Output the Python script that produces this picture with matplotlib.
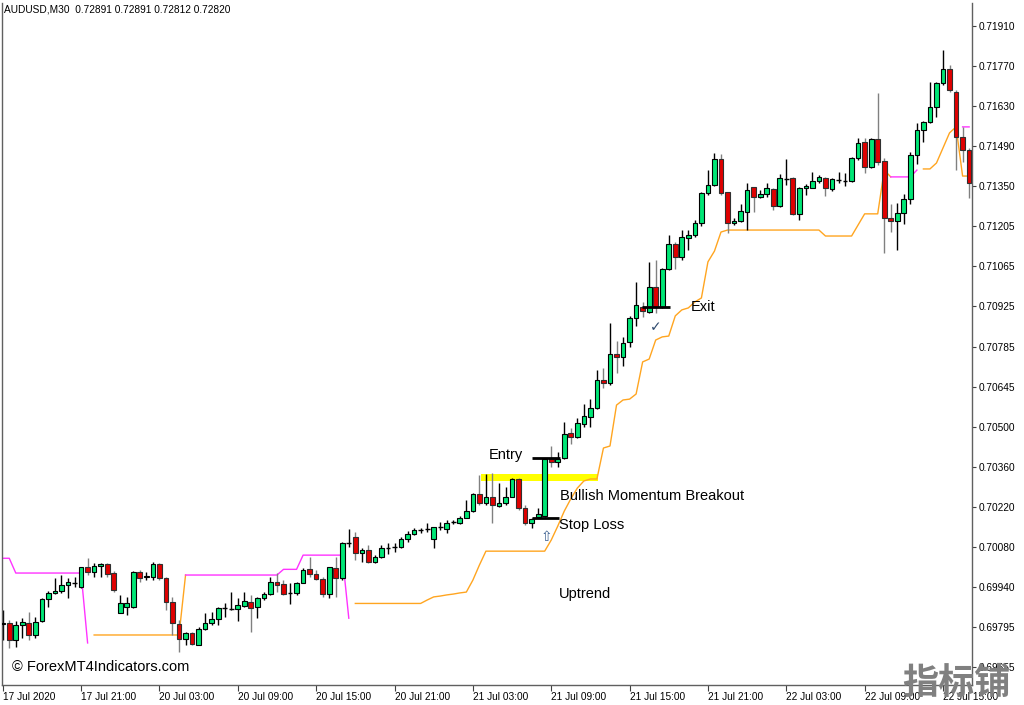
import numpy as np
import matplotlib
matplotlib.use("Agg")
import matplotlib.pyplot as plt

plt.rcParams['font.family'] = ['Liberation Sans', 'DejaVu Sans']

# AUDUSD M30 candles (oldest first)
opens = [0.69805, 0.69809, 0.69749, 0.69802, 0.69809, 0.69767, 0.69816, 0.69894, 0.69915, 0.69922,
         0.69943, 0.69950, 0.69936, 0.70006, 0.69989, 0.70010, 0.70017, 0.69985, 0.69844, 0.69865,
         0.69865, 0.69989, 0.69971, 0.69971, 0.70017, 0.69967, 0.69883, 0.69805, 0.69753, 0.69774,
         0.69732, 0.69788, 0.69809, 0.69823, 0.69862, 0.69858, 0.69858, 0.69869, 0.69883, 0.69865,
         0.69897, 0.69911, 0.69953, 0.69946, 0.69915, 0.69915, 0.69950, 0.69999, 0.69982, 0.69964,
         0.69911, 0.70003, 0.69967, 0.70091, 0.70112, 0.70055, 0.70066, 0.70024, 0.70041, 0.70073,
         0.70077, 0.70077, 0.70105, 0.70122, 0.70136, 0.70140, 0.70105, 0.70147, 0.70140, 0.70164,
         0.70161, 0.70178, 0.70203, 0.70263, 0.70231, 0.70252, 0.70221, 0.70231, 0.70252, 0.70315,
         0.70214, 0.70161, 0.70182, 0.70186, 0.70386, 0.70376, 0.70390, 0.70478, 0.70464, 0.70510,
         0.70534, 0.70566, 0.70664, 0.70654, 0.70756, 0.70745, 0.70798, 0.70883, 0.70921, 0.70904,
         0.70992, 0.70921, 0.71055, 0.71143, 0.71097, 0.71164, 0.71175, 0.71217, 0.71323, 0.71351,
         0.71442, 0.71326, 0.71217, 0.71224, 0.71256, 0.71343, 0.71308, 0.71319, 0.71337, 0.71277,
         0.71372, 0.71375, 0.71248, 0.71340, 0.71340, 0.71365, 0.71375, 0.71337, 0.71368, 0.71365,
         0.71365, 0.71446, 0.71502, 0.71414, 0.71512, 0.71435, 0.71234, 0.71224, 0.71252, 0.71301,
         0.71456, 0.71544, 0.71572, 0.71625, 0.71709, 0.71759, 0.71678, 0.71519, 0.71474]
highs = [0.69855, 0.69820, 0.69816, 0.69827, 0.69848, 0.69830, 0.69897, 0.69922, 0.69967, 0.69978,
         0.69967, 0.69971, 0.70008, 0.70038, 0.70020, 0.70020, 0.70020, 0.69992, 0.69908, 0.69901,
         0.69992, 0.69996, 0.69989, 0.70024, 0.70020, 0.69971, 0.69901, 0.69820, 0.69778, 0.69778,
         0.69795, 0.69844, 0.69848, 0.69865, 0.69879, 0.69918, 0.69897, 0.69918, 0.69908, 0.69901,
         0.69918, 0.69971, 0.69985, 0.69960, 0.69950, 0.69953, 0.70003, 0.70041, 0.69996, 0.69971,
         0.70006, 0.70041, 0.70094, 0.70140, 0.70129, 0.70073, 0.70084, 0.70048, 0.70084, 0.70091,
         0.70091, 0.70112, 0.70133, 0.70143, 0.70143, 0.70161, 0.70147, 0.70164, 0.70172, 0.70172,
         0.70185, 0.70242, 0.70266, 0.70330, 0.70333, 0.70337, 0.70302, 0.70288, 0.70319, 0.70319,
         0.70224, 0.70178, 0.70214, 0.70390, 0.70432, 0.70411, 0.70517, 0.70495, 0.70531, 0.70580,
         0.70597, 0.70700, 0.70707, 0.70865, 0.70802, 0.70816, 0.70890, 0.71009, 0.70939, 0.71080,
         0.71087, 0.71059, 0.71175, 0.71150, 0.71192, 0.71192, 0.71227, 0.71326, 0.71403, 0.71463,
         0.71460, 0.71326, 0.71234, 0.71284, 0.71358, 0.71343, 0.71333, 0.71358, 0.71340, 0.71389,
         0.71442, 0.71379, 0.71343, 0.71354, 0.71396, 0.71386, 0.71379, 0.71375, 0.71396, 0.71393,
         0.71449, 0.71516, 0.71516, 0.71516, 0.71674, 0.71446, 0.71284, 0.71287, 0.71319, 0.71467,
         0.71569, 0.71576, 0.71713, 0.71713, 0.71826, 0.71773, 0.71685, 0.71555, 0.71481]
lows = [0.69749, 0.69721, 0.69725, 0.69756, 0.69749, 0.69756, 0.69813, 0.69865, 0.69911, 0.69915,
        0.69897, 0.69936, 0.69932, 0.69978, 0.69971, 0.69971, 0.69971, 0.69918, 0.69844, 0.69837,
        0.69862, 0.69953, 0.69960, 0.69960, 0.69960, 0.69855, 0.69767, 0.69707, 0.69732, 0.69732,
        0.69732, 0.69784, 0.69802, 0.69802, 0.69830, 0.69855, 0.69816, 0.69865, 0.69777, 0.69827,
        0.69890, 0.69908, 0.69918, 0.69908, 0.69876, 0.69908, 0.69950, 0.69971, 0.69960, 0.69901,
        0.69897, 0.69901, 0.69960, 0.70077, 0.70031, 0.70024, 0.70020, 0.70020, 0.70038, 0.70052,
        0.70059, 0.70073, 0.70094, 0.70119, 0.70126, 0.70129, 0.70073, 0.70136, 0.70126, 0.70157,
        0.70157, 0.70178, 0.70199, 0.70224, 0.70224, 0.70161, 0.70217, 0.70224, 0.70252, 0.70207,
        0.70154, 0.70143, 0.70178, 0.70182, 0.70358, 0.70358, 0.70386, 0.70439, 0.70460, 0.70499,
        0.70499, 0.70562, 0.70636, 0.70647, 0.70689, 0.70714, 0.70781, 0.70855, 0.70886, 0.70900,
        0.70900, 0.70918, 0.71052, 0.71055, 0.71087, 0.71122, 0.71168, 0.71206, 0.71316, 0.71347,
        0.71316, 0.71182, 0.71210, 0.71220, 0.71192, 0.71255, 0.71305, 0.71308, 0.71263, 0.71273,
        0.71351, 0.71245, 0.71227, 0.71316, 0.71340, 0.71358, 0.71312, 0.71330, 0.71358, 0.71347,
        0.71361, 0.71438, 0.71393, 0.71410, 0.71421, 0.71111, 0.71185, 0.71122, 0.71213, 0.71284,
        0.71424, 0.71502, 0.71569, 0.71590, 0.71702, 0.71678, 0.71403, 0.71431, 0.71305]
closes = [0.69809, 0.69749, 0.69802, 0.69813, 0.69767, 0.69813, 0.69894, 0.69915, 0.69922, 0.69943,
          0.69953, 0.69950, 0.70006, 0.69989, 0.70010, 0.70017, 0.69982, 0.69925, 0.69879, 0.69879,
          0.69989, 0.69967, 0.69974, 0.70017, 0.69967, 0.69883, 0.69809, 0.69753, 0.69774, 0.69735,
          0.69788, 0.69809, 0.69823, 0.69862, 0.69862, 0.69858, 0.69872, 0.69886, 0.69862, 0.69897,
          0.69911, 0.69953, 0.69943, 0.69911, 0.69915, 0.69950, 0.69996, 0.69982, 0.69964, 0.69911,
          0.70006, 0.69967, 0.70091, 0.70091, 0.70055, 0.70066, 0.70024, 0.70041, 0.70073, 0.70073,
          0.70077, 0.70105, 0.70122, 0.70136, 0.70136, 0.70140, 0.70147, 0.70147, 0.70161, 0.70164,
          0.70178, 0.70203, 0.70263, 0.70231, 0.70252, 0.70224, 0.70231, 0.70252, 0.70315, 0.70214,
          0.70161, 0.70175, 0.70193, 0.70386, 0.70376, 0.70386, 0.70474, 0.70464, 0.70513, 0.70538,
          0.70566, 0.70664, 0.70654, 0.70756, 0.70745, 0.70795, 0.70883, 0.70928, 0.70907, 0.70992,
          0.70921, 0.71055, 0.71143, 0.71097, 0.71168, 0.71175, 0.71217, 0.71323, 0.71351, 0.71442,
          0.71323, 0.71217, 0.71224, 0.71259, 0.71333, 0.71308, 0.71319, 0.71340, 0.71277, 0.71375,
          0.71372, 0.71248, 0.71340, 0.71347, 0.71365, 0.71379, 0.71340, 0.71372, 0.71368, 0.71365,
          0.71446, 0.71498, 0.71414, 0.71512, 0.71432, 0.71234, 0.71224, 0.71252, 0.71301, 0.71456,
          0.71544, 0.71572, 0.71625, 0.71709, 0.71759, 0.71685, 0.71519, 0.71474, 0.71358]

# trailing indicator lines (nan = no value on that bar)
nan = np.nan
up_line = ([nan] * 14 + [0.69767] * 14 + [0.69978] + [nan] * 25 + [0.69878] * 11
           + [0.69890, 0.69901, 0.69904, 0.69908, 0.69911, 0.69915, 0.69918, 0.69960, 0.70013]
           + [0.70062] * 10
           + [0.70101, 0.70150, 0.70203, 0.70246, 0.70284, 0.70309, 0.70316, 0.70316, 0.70425, 0.70432,
              0.70576, 0.70594, 0.70597, 0.70615, 0.70728, 0.70738, 0.70805, 0.70816, 0.70819, 0.70890,
              0.70911, 0.70918, 0.70939, 0.70953, 0.71080, 0.71118, 0.71185]
           + [0.71192] * 15 + [0.71171] * 5 + [0.71210] + [0.71249] * 3 + [0.71403, 0.71379]
           + [nan] * 4 + [0.71407, 0.71407, 0.71428, 0.71481, 0.71534, 0.71555, 0.71382, 0.71382])
down_line = ([0.70037, 0.70037] + [0.69985] * 11 + [0.69739] + [nan] * 14 + [0.69978] * 15
             + [0.69998] * 3 + [0.70048] * 7 + [0.69826] + [nan] * 82 + [0.71379] * 4 + [0.71403]
             + [nan] * 6 + [0.71555, 0.71555])

x_ticks = [0, 12, 24, 36, 48, 60, 72, 84, 96, 108, 120, 132, 144]
x_labels = ['17 Jul 2020', '17 Jul 21:00', '20 Jul 03:00', '20 Jul 09:00', '20 Jul 15:00',
            '20 Jul 21:00', '21 Jul 03:00', '21 Jul 09:00', '21 Jul 15:00', '21 Jul 21:00',
            '22 Jul 03:00', '22 Jul 09:00', '22 Jul 15:00']
y_labels = ['0.71910', '0.71770', '0.71630', '0.71490', '0.71350', '0.71205', '0.71065', '0.70925',
            '0.70785', '0.70645', '0.70500', '0.70360', '0.70220', '0.70080', '0.69940', '0.69795',
            '0.69655']
y_ticks = [0.71910 - 0.00141 * k for k in range(len(y_labels))]

# trade markers
entry_price = 0.70389
stop_price = 0.70180
exit_price = 0.70920
band_low, band_high = 0.70309, 0.70334

o = np.array(opens)
h = np.array(highs)
l = np.array(lows)
c = np.array(closes)
idx = np.arange(len(o))
bull = c > o
bear = c < o
doji = c == o

fig = plt.figure(figsize=(10.24, 7.05), dpi=100)
ax = fig.add_axes([2 / 1024, 20 / 705, 970 / 1024, 682 / 705])

GREEN = '#00E676'
RED = '#E00000'

# yellow breakout zone
ax.fill_between([73.2, 91.2], band_low, band_high, color='#FFFF00', lw=0, zorder=1)

ax.plot(idx, up_line, color='#FFA520', lw=1, zorder=1.5)
ax.plot(idx, down_line, color='#FF33FF', lw=1, zorder=1.5)

# wicks
ax.vlines(idx[bull], l[bull], h[bull], color='black', lw=1, zorder=2)
ax.vlines(idx[bear], l[bear], h[bear], color='#808080', lw=1, zorder=2)
ax.vlines(idx[doji], l[doji], h[doji], color='black', lw=1, zorder=2)

# bodies
ax.bar(idx[bull], c[bull] - o[bull], bottom=o[bull], width=0.72, color=GREEN,
       edgecolor='black', lw=0.8, zorder=3)
ax.bar(idx[bear], o[bear] - c[bear], bottom=c[bear], width=0.72, color=RED,
       edgecolor='#303030', lw=0.8, zorder=3)
ax.hlines(o[doji], idx[doji] - 0.36, idx[doji] + 0.36, color='black', lw=1, zorder=3)

# entry / stop / exit levels
ax.hlines(entry_price, 81.0, 85.3, color='black', lw=2, zorder=4)
ax.hlines(stop_price, 81.0, 85.2, color='black', lw=2, zorder=4)
ax.hlines(exit_price, 97.9, 102.2, color='black', lw=2, zorder=4)

ax.text(74.5, 0.70400, 'Entry', fontsize=10.5, va='center', ha='left')
ax.text(85.35, 0.70256, 'Bullish Momentum Breakout', fontsize=10.5, va='center', ha='left')
ax.text(85.2, 0.70154, 'Stop Loss', fontsize=10.5, va='center', ha='left')
ax.text(105.4, 0.70921, 'Exit', fontsize=10.5, va='center', ha='left')
ax.text(85.2, 0.69911, 'Uptrend', fontsize=10.5, va='center', ha='left')
ax.text(100.05, 0.70851, '\u2713', fontsize=10, va='center', ha='center', color='#2E4A6E',
        family=['DejaVu Sans'])
ax.text(83.2, 0.70112, '\u21e7', fontsize=10, va='center', ha='center', color='#3A5F8F',
        family=['DejaVu Sans'])

ax.set_xlim(-0.11, 148.44)
ax.set_ylim(0.69591, 0.71991)

ax.set_xticks(x_ticks)
ax.set_xticklabels(x_labels, ha='left')
ax.set_yticks(y_ticks)
ax.set_yticklabels(y_labels)
ax.yaxis.tick_right()
ax.tick_params(axis='x', direction='out', length=4, width=0.8, pad=1, labelsize=7.3,
               color='#404040')
ax.tick_params(axis='y', direction='out', length=3, width=0.8, pad=2, labelsize=7.3,
               color='#404040')
ax.spines['top'].set_visible(False)
for s in ['left', 'right', 'bottom']:
    ax.spines[s].set_color('#606060')
    ax.spines[s].set_linewidth(1)

fig.text(4 / 1024, 1 - 10 / 705, 'AUDUSD,M30  0.72891 0.72891 0.72812 0.72820',
         fontsize=7.3, va='center', ha='left')
fig.text(12 / 1024, 1 - 667 / 705, '\u00a9 ForexMT4Indicators.com', fontsize=10.5,
         va='center', ha='left')
fig.text(956 / 1024, 1 - 683 / 705, '指标铺', fontsize=26, fontweight='bold', color='#808080',
         va='center', ha='center', family=['Noto Sans CJK SC'], zorder=10)

fig.savefig('out.png', dpi=100)
